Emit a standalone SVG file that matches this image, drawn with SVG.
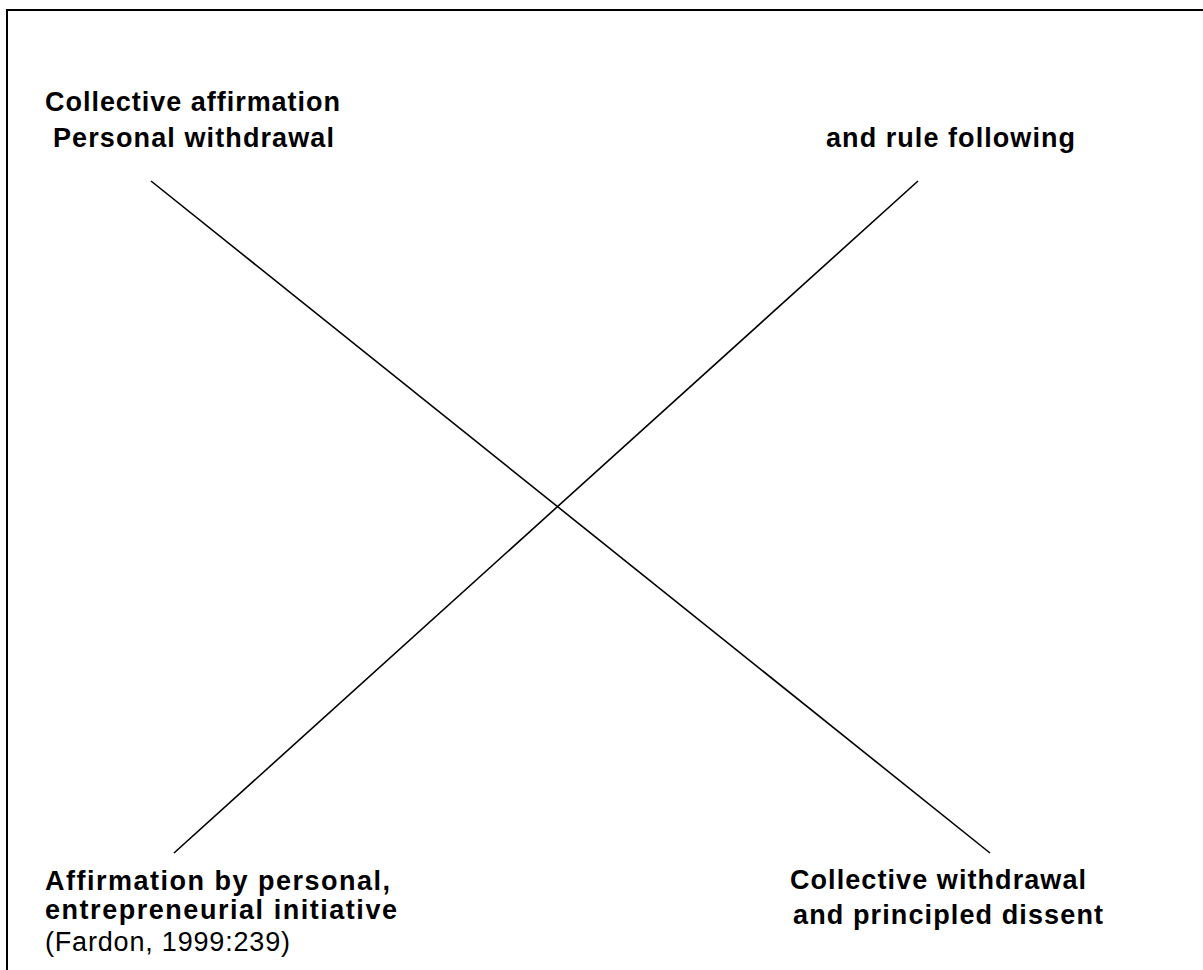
<svg xmlns="http://www.w3.org/2000/svg" width="1203" height="970" viewBox="0 0 1203 970">
  <style>
    .frame { fill: none; stroke: #000; stroke-width: 2; }
    .axis { stroke: #000; stroke-width: 1.6; fill: none; }
    .lbl { font-family: "Liberation Sans", Arial, sans-serif; font-size: 27px; font-weight: bold; fill: #000; }
    .ref { font-family: "Liberation Sans", Arial, sans-serif; font-size: 27px; font-weight: normal; fill: #000; }
  </style>
  <rect width="1203" height="970" fill="#fff"/>
  <!-- outer frame, open on the right and bottom -->
  <rect class="frame" x="7" y="10" width="1400" height="1200"/>

  <g id="connectors">
    <line class="axis" x1="151" y1="181" x2="990" y2="853"/>
    <line class="axis" x1="918" y1="181" x2="174" y2="853"/>
  </g>

  <g id="top-left">
    <text class="lbl" x="45" y="111" textLength="295" lengthAdjust="spacing">Collective affirmation</text>
    <text class="lbl" x="53" y="147" textLength="281" lengthAdjust="spacing">Personal withdrawal</text>
  </g>

  <g id="top-right">
    <text class="lbl" x="826" y="147" textLength="249" lengthAdjust="spacing">and rule following</text>
  </g>

  <g id="bottom-left">
    <text class="lbl" x="45" y="890" textLength="345" lengthAdjust="spacing">Affirmation by personal,</text>
    <text class="lbl" x="45" y="919" textLength="352" lengthAdjust="spacing">entrepreneurial initiative</text>
    <text class="ref" x="45" y="951" textLength="245" lengthAdjust="spacing">(Fardon, 1999:239)</text>
  </g>

  <g id="bottom-right">
    <text class="lbl" x="790" y="889" textLength="296" lengthAdjust="spacing">Collective withdrawal</text>
    <text class="lbl" x="793" y="924" textLength="310" lengthAdjust="spacing">and principled dissent</text>
  </g>
</svg>
